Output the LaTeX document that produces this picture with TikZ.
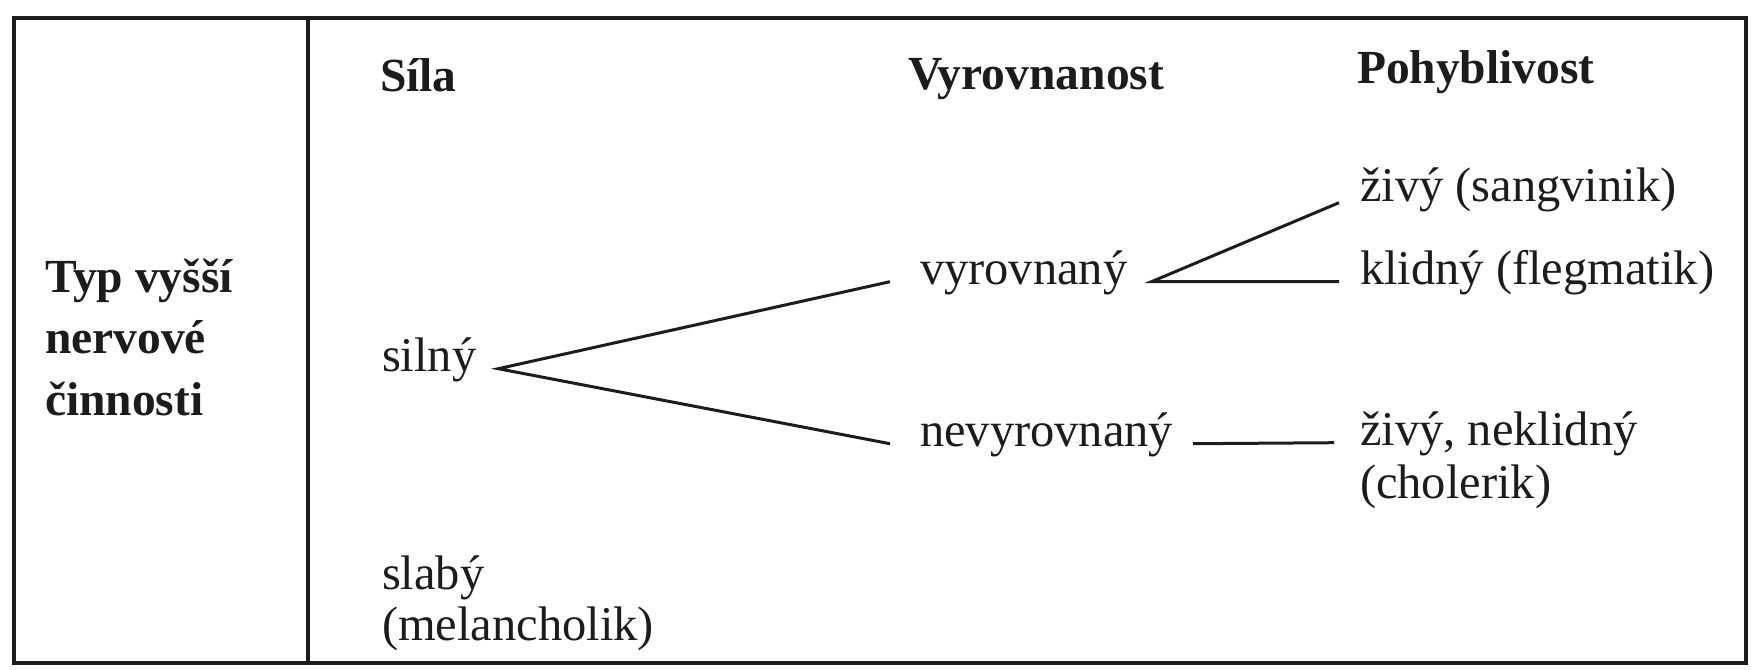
\documentclass[tikz,border=0pt]{standalone}
\usepackage{fontspec}
\setmainfont{Liberation Serif}
\definecolor{ink}{RGB}{28,28,28}
\begin{document}
\begin{tikzpicture}[x=1pt,y=-1pt,
  txt/.style={anchor=base west,inner sep=0pt,outer sep=0pt,font=\fontsize{48.5}{58}\selectfont,text=ink},
  head/.style={txt,font=\fontsize{47.5}{58}\selectfont\bfseries},
  conn/.style={draw=ink,line width=3pt},
  frame/.style={draw=ink,line width=3.4pt}]
\useasboundingbox (0,0) rectangle (1763,669);
% table frame
\draw[frame] (14,18) rectangle (1746,663);
\draw[frame] (308,18) -- (308,663);
% left header
\node[head] (typ1) at (45,292) {Typ vyšší};
\node[head] (typ2) at (45,353) {nervové};
\node[head] (typ3) at (45,415) {činnosti};
% column headers
\node[head] (sila) at (380,92) {Síla};
\node[head] (vyrh) at (908,89) {Vyrovnanost};
\node[head] (pohh) at (1357,84) {Pohyblivost};
% entries
\node[txt] (silny) at (382,371) {silný};
\node[txt] (slaby) at (382,589) {slabý};
\node[txt] (mel) at (382,640) {(melancholik)};
\node[txt] (vyr) at (920,284) {vyrovnaný};
\node[txt] (nevyr) at (920,446) {nevyrovnaný};
\node[txt] (sang) at (1360,201) {živý (sangvinik)};
\node[txt] (fleg) at (1360,284) {klidný (flegmatik)};
\node[txt] (chol1) at (1360,445) {živý, neklidný};
\node[txt] (chol2) at (1360,498) {(cholerik)};
% connectors
\draw[conn] ([xshift=-30pt]vyr.mid west) -- ([xshift=22pt]silny.mid east) -- ([xshift=-30pt]nevyr.mid west);
\draw[conn] ([xshift=-21pt,yshift=-4pt]sang.mid west) -- ([xshift=24pt]vyr.mid east) -- ([xshift=-21pt]fleg.mid west);
\draw[conn] ([xshift=20pt]nevyr.mid east) -- ([xshift=-26pt]chol1.mid west);
\end{tikzpicture}
\end{document}
